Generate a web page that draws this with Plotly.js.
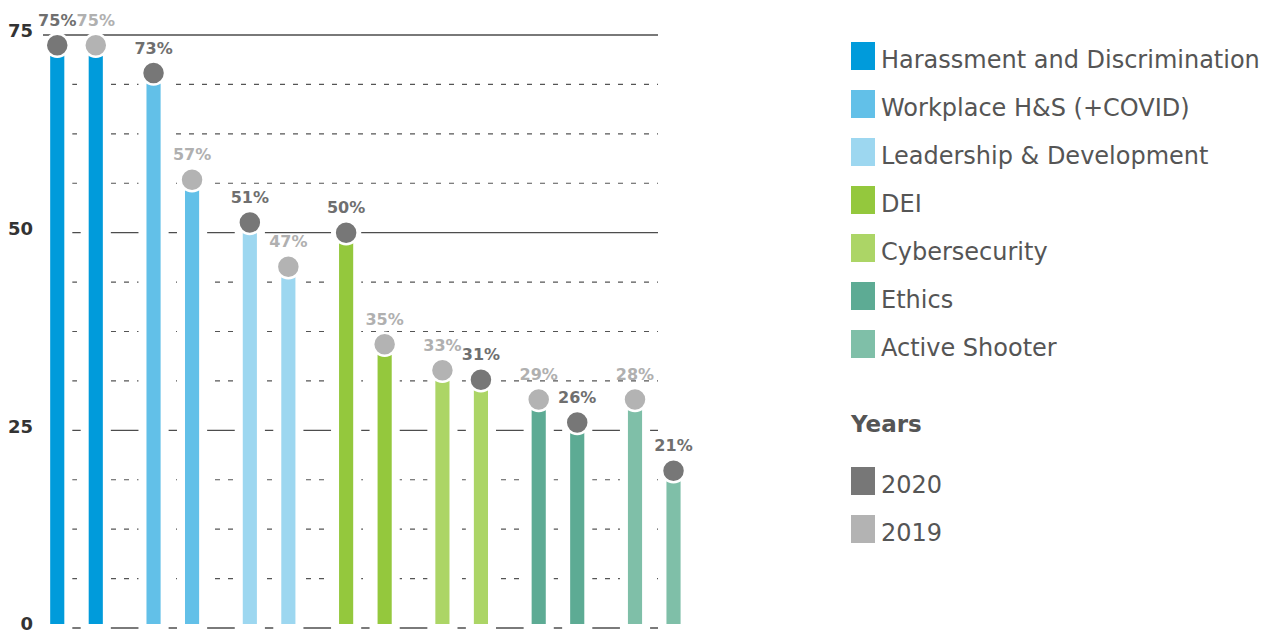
<!DOCTYPE html>
<html>
<head>
<meta charset="utf-8">
<script src="https://cdn.plot.ly/plotly-3.0.1.min.js"></script>
<style>html,body{margin:0;padding:0;background:#fff;}#chart{width:1272px;height:636px;}</style>
</head>
<body>
<div id="chart"></div>
<script>
// ---- data ----
const categories = ['Harassment and Discrimination','Workplace H&S (+COVID)','Leadership & Development','DEI','Cybersecurity','Ethics','Active Shooter'];
const categoryColors = ['#009bdb','#62c0e8','#9dd7f0','#94c83d','#acd566','#5dab94','#7fbfa8'];
// first bar of each pair
const firstValues = [73.7, 70.2, 51.3, 50.0, 32.6, 28.9, 28.9];
const firstYears  = ['2020','2020','2020','2020','2019','2019','2019'];
const firstLabels = ['75%','73%','51%','50%','33%','29%','28%'];
// second bar of each pair
const secondValues = [73.7, 56.7, 45.7, 35.9, 31.4, 26.0, 19.9];
const secondYears  = ['2019','2019','2019','2019','2020','2020','2020'];
const secondLabels = ['75%','57%','47%','35%','31%','26%','21%'];
const years = ['2020','2019'];
const yearMarkerColors = {'2020':'#777777','2019':'#b3b3b3'};
const yearLabelColors  = {'2020':'#6f6f6f','2019':'#b0b0b0'};
const yTicks = [0, 25, 50, 75];

// ---- layout helpers ----
const W = 1272, H = 636;
const Y0PX = 628, Y75PX = 35;                 // pixel rows of 0 and 75
const PL = 43, PT = 28, PR = 700, PB = 634;
const PW = PR - PL, PH = PB - PT;
const UPP = 75 / (Y0PX - Y75PX);              // value units per pixel
const yRange = [-(PB - Y0PX) * UPP, 75 + (Y75PX - PT) * UPP];
const GRID_END = 658;
const fx = x => (x - PL) / PW;
const fy = y => (PB - y) / PH;
const OFF = 0.2;
const idx = categories.map((_, i) => i);

const traces = [];
[[firstValues, firstYears, firstLabels, -OFF], [secondValues, secondYears, secondLabels, OFF]].forEach(([vals, yrs, lbls, off]) => {
  const xs = idx.map(i => i + off);
  traces.push({
    type: 'bar', x: xs, y: vals, width: 0.23,
    marker: {color: categoryColors, line: {color: '#ffffff', width: 8}},
    cliponaxis: false, showlegend: false, hoverinfo: 'skip'
  });
  traces.push({
    type: 'scatter', mode: 'markers+text', x: xs, y: vals,
    text: lbls, textposition: 'top center',
    textfont: {family: 'DejaVu Sans', size: 16, weight: 700, color: yrs.map(y => yearLabelColors[y])},
    marker: {size: 23, color: yrs.map(y => yearMarkerColors[y]), line: {color: '#ffffff', width: 2.5}},
    cliponaxis: false, showlegend: false, hoverinfo: 'skip'
  });
});

const shapes = [], annotations = [];
// ---- grid lines (major solid, minor dashed) ----
yTicks.forEach((t, k) => {
  shapes.push({type: 'line', layer: 'below', xref: 'paper', yref: 'y', x0: 0, x1: fx(GRID_END), y0: t, y1: t,
    line: {color: t === 0 ? '#7a7a7a' : '#4d4d4d', width: t === 0 ? 2 : 1.3}});
  if (k < yTicks.length - 1) {
    const step = (yTicks[k + 1] - t) / 4;
    for (let m = 1; m < 4; m++) {
      const v = t + m * step;
      shapes.push({type: 'line', layer: 'below', xref: 'paper', yref: 'y', x0: fx(46), x1: fx(GRID_END), y0: v, y1: v,
        line: {color: '#555555', width: 1.1, dash: '5px,8px'}});
    }
  }
});

// ---- custom legend ----
const legFont = {family: 'DejaVu Sans', size: 24, color: '#555555'};
categories.forEach((c, i) => {
  const base = 70 + 48 * i;
  shapes.push({type: 'rect', xref: 'paper', yref: 'paper', x0: fx(851), x1: fx(875), y0: fy(base), y1: fy(base - 28), fillcolor: categoryColors[i], line: {width: 0}});
  annotations.push({xref: 'paper', yref: 'paper', x: fx(879), y: fy(base - 10), xanchor: 'left', yanchor: 'middle', text: c, showarrow: false, font: legFont});
});
annotations.push({xref: 'paper', yref: 'paper', x: fx(848), y: fy(434 - 10), xanchor: 'left', yanchor: 'middle', text: '<b>Years</b>', showarrow: false, font: {family: 'DejaVu Sans', size: 23, color: '#555555'}});
years.forEach((y, i) => {
  const base = 495 + 48 * i;
  shapes.push({type: 'rect', xref: 'paper', yref: 'paper', x0: fx(851), x1: fx(875), y0: fy(base), y1: fy(base - 28), fillcolor: yearMarkerColors[y], line: {width: 0}});
  annotations.push({xref: 'paper', yref: 'paper', x: fx(879), y: fy(base - 10), xanchor: 'left', yanchor: 'middle', text: y, showarrow: false, font: legFont});
});

const layout = {
  width: W, height: H,
  margin: {l: PL, r: W - PR, t: PT, b: H - PB, autoexpand: false},
  paper_bgcolor: '#ffffff', plot_bgcolor: '#ffffff',
  showlegend: false,
  xaxis: {range: [-0.348, 6.475], showticklabels: false, showgrid: false, zeroline: false, showline: false, fixedrange: true},
  yaxis: {
    range: yRange, tickvals: yTicks, ticktext: yTicks.map(String), ticks: '',
    showgrid: false, zeroline: false, ticklabeloverflow: 'allow', ticklabelshift: -4,
    tickfont: {family: 'DejaVu Sans', size: 18, weight: 700, color: '#333333'},
    ticklabelstandoff: 9, showline: false, fixedrange: true
  },
  shapes: shapes, annotations: annotations
};

Plotly.newPlot('chart', traces, layout, {displayModeBar: false, staticPlot: true});
</script>
</body>
</html>
